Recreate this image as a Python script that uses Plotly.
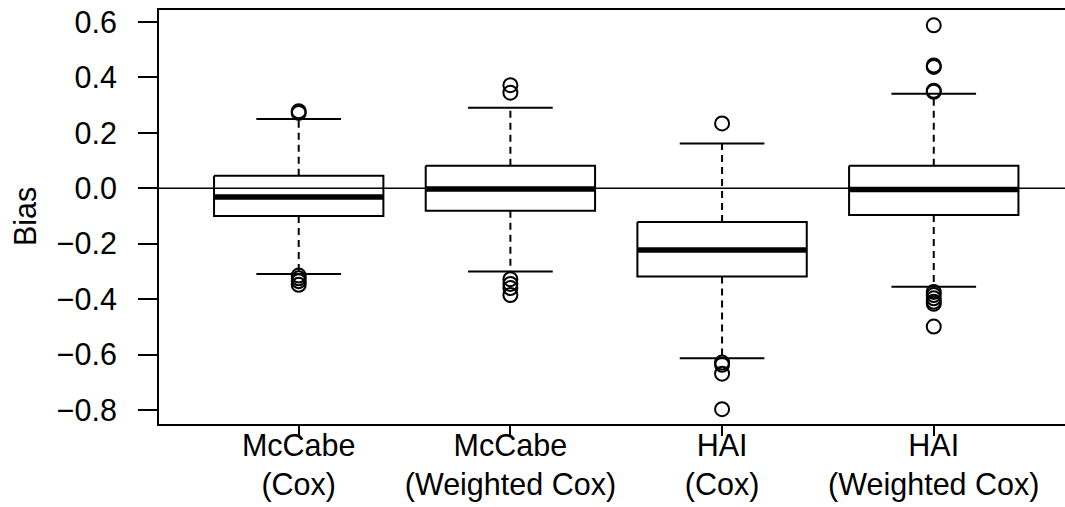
import plotly.graph_objects as go

# Box summary statistics for each estimator (R boxplot style)
groups = ["McCabe<br>(Cox)", "McCabe<br>(Weighted Cox)", "HAI<br>(Cox)", "HAI<br>(Weighted Cox)"]
positions = [1, 2, 3, 4]
q1 = [-0.100, -0.081, -0.318, -0.096]
median = [-0.031, -0.003, -0.223, -0.004]
q3 = [0.045, 0.081, -0.122, 0.081]
lower_whisker = [-0.309, -0.300, -0.613, -0.355]
upper_whisker = [0.250, 0.291, 0.162, 0.341]
outliers = [
    [0.272, 0.278, -0.315, -0.325, -0.335, -0.348],
    [0.345, 0.372, -0.328, -0.345, -0.360, -0.385],
    [0.234, -0.629, -0.637, -0.669, -0.797],
    [0.588, 0.438, 0.443, 0.348, 0.352, -0.374, -0.385, -0.397, -0.409, -0.417, -0.499],
]

y_ticks = [0.6, 0.4, 0.2, 0.0, -0.2, -0.4, -0.6, -0.8]
y_tick_labels = ["0.6", "0.4", "0.2", "0.0", "\u22120.2", "\u22120.4", "\u22120.6", "\u22120.8"]

BOX_HALF = 0.4     # boxwex 0.8
CAP_HALF = 0.2     # staplewex 0.5
FONT = "Liberation Sans, Arial, Helvetica, sans-serif"
FS = 30.5

box_x, box_y = [], []
med_x, med_y = [], []
wh_x, wh_y = [], []
cap_x, cap_y = [], []
out_x, out_y = [], []
for c, a, m, b, lo, hi, outs in zip(positions, q1, median, q3, lower_whisker, upper_whisker, outliers):
    box_x += [c - BOX_HALF, c + BOX_HALF, c + BOX_HALF, c - BOX_HALF, c - BOX_HALF, None]
    box_y += [b, b, a, a, b, None]
    med_x += [c - BOX_HALF, c + BOX_HALF, None]
    med_y += [m, m, None]
    wh_x += [c, c, None, c, c, None]
    wh_y += [b, hi, None, a, lo, None]
    cap_x += [c - CAP_HALF, c + CAP_HALF, None, c - CAP_HALF, c + CAP_HALF, None]
    cap_y += [hi, hi, None, lo, lo, None]
    out_x += [c] * len(outs)
    out_y += outs

fig = go.Figure()
fig.add_trace(go.Scatter(x=wh_x, y=wh_y, mode="lines",
                         line=dict(color="black", width=2, dash="7px,5px")))
fig.add_trace(go.Scatter(x=cap_x, y=cap_y, mode="lines",
                         line=dict(color="black", width=2)))
fig.add_trace(go.Scatter(x=box_x, y=box_y, mode="lines",
                         line=dict(color="black", width=2)))
fig.add_trace(go.Scatter(x=med_x, y=med_y, mode="lines",
                         line=dict(color="black", width=5.5)))
fig.add_trace(go.Scatter(x=out_x, y=out_y, mode="markers",
                         marker=dict(symbol="circle-open", size=14, color="black",
                                     line=dict(width=2, color="black"))))

# horizontal reference line at zero bias
fig.add_shape(type="line", xref="paper", x0=0, x1=1, yref="y", y0=0, y1=0,
              line=dict(color="black", width=1.5), layer="above")

fig.add_annotation(text="Bias", xref="paper", yref="paper", x=(25 - 159) / 906, y=0.5,
                   xanchor="center", yanchor="middle", textangle=-90, showarrow=False,
                   font=dict(family=FONT, size=FS, color="black"))

fig.update_layout(
    template="none",
    width=1065, height=507,
    margin=dict(l=159, r=0, t=10, b=83),
    paper_bgcolor="white", plot_bgcolor="white",
    showlegend=False,
    font=dict(family=FONT, size=FS, color="black"),
    xaxis=dict(range=[0.34, 4.62], tickvals=positions, ticktext=groups,
               ticks="outside", ticklen=10, tickwidth=1.5, tickcolor="black",
               ticklabelstandoff=-17, automargin=False,
               showline=True, mirror=True, linewidth=2, linecolor="black",
               showgrid=False, zeroline=False,
               tickfont=dict(family=FONT, size=FS, color="black")),
    yaxis=dict(range=[-0.8505, 0.6433], tickvals=y_ticks, ticktext=y_tick_labels,
               ticks="outside", ticklen=19, tickwidth=1.5, tickcolor="black",
               ticklabelstandoff=15, automargin=False,
               showline=True, mirror=False, linewidth=2, linecolor="black",
               showgrid=False, zeroline=False,
               tickfont=dict(family=FONT, size=FS, color="black")),
)

fig.write_html("out.html")
